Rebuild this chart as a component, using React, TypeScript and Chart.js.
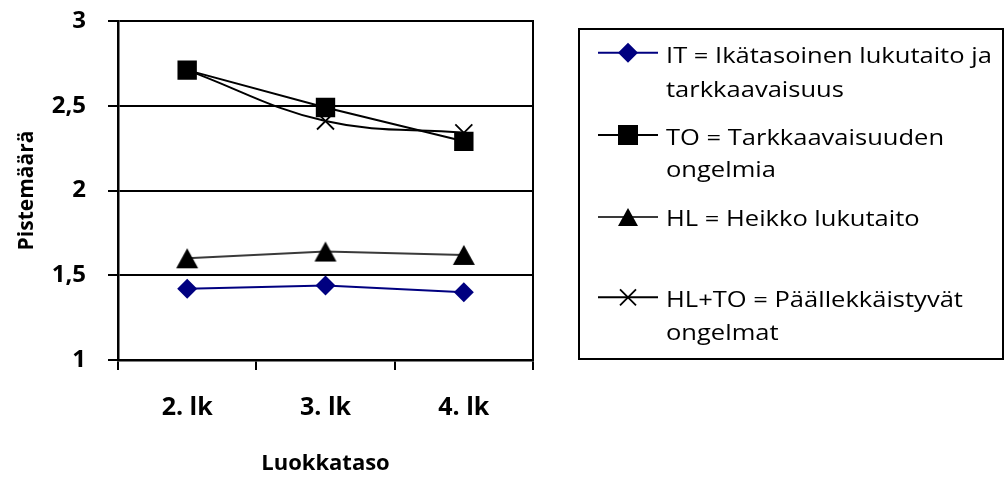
import React, { useEffect, useRef } from "react";
import { Chart, registerables } from "chart.js";

Chart.register(...registerables);

const categories = ["2. lk", "3. lk", "4. lk"];
const itValues = [1.42, 1.44, 1.4];
const toValues = [2.71, 2.49, 2.29];
const hlValues = [1.6, 1.64, 1.62];
const hltoValues = [2.71, 2.41, 2.34];

const legendLines = [
  ["IT = Ikätasoinen lukutaito ja", "tarkkaavaisuus"],
  ["TO = Tarkkaavaisuuden", "ongelmia"],
  ["HL = Heikko lukutaito"],
  ["HL+TO = Päällekkäistyvät", "ongelmat"],
];

const yAxisTitle = "Pistemäärä";
const xAxisTitle = "Luokkataso";

const FONT = "'Open Sans', 'DejaVu Sans', sans-serif";
const NAVY = "#000080";
const GRAYLINE = "#3a3a3a";

function makeTriangle(w: number, h: number, color: string) {
  const c = document.createElement("canvas");
  c.width = w + 4;
  c.height = h + 4;
  const ctx = c.getContext("2d")!;
  ctx.fillStyle = color;
  ctx.beginPath();
  ctx.moveTo(c.width / 2, 2);
  ctx.lineTo(c.width / 2 + w / 2, 2 + h);
  ctx.lineTo(c.width / 2 - w / 2, 2 + h);
  ctx.closePath();
  ctx.fill();
  return c;
}

function drawMarker(ctx: CanvasRenderingContext2D, kind: string, x: number, y: number, color: string) {
  ctx.save();
  ctx.fillStyle = color;
  ctx.strokeStyle = color;
  ctx.beginPath();
  if (kind === "diamond") {
    const r = 10;
    ctx.moveTo(x - r, y);
    ctx.lineTo(x, y - r);
    ctx.lineTo(x + r, y);
    ctx.lineTo(x, y + r);
    ctx.closePath();
    ctx.fill();
  } else if (kind === "square") {
    const s = 10;
    ctx.rect(x - s, y - s, 2 * s, 2 * s);
    ctx.fill();
  } else if (kind === "triangle") {
    ctx.moveTo(x, y - 9);
    ctx.lineTo(x + 10, y + 9);
    ctx.lineTo(x - 10, y + 9);
    ctx.closePath();
    ctx.fill();
  } else if (kind === "cross") {
    const r = 8;
    ctx.lineWidth = 1.8;
    ctx.moveTo(x - r, y - r);
    ctx.lineTo(x + r, y + r);
    ctx.moveTo(x + r, y - r);
    ctx.lineTo(x - r, y + r);
    ctx.stroke();
  }
  ctx.restore();
}

const legendPlugin = {
  id: "customLegend",
  afterDraw(chart: any) {
    const ctx: CanvasRenderingContext2D = chart.ctx;
    ctx.save();
    ctx.strokeStyle = "#000";
    ctx.lineWidth = 2;
    ctx.strokeRect(579, 29, 424, 330);

    const items = [
      { kind: "diamond", color: NAVY, line: NAVY, my: 52.7, baselines: [63, 97] },
      { kind: "square", color: "#000", line: "#000", my: 135, baselines: [145, 177] },
      { kind: "triangle", color: "#000", line: GRAYLINE, my: 217, baselines: [226] },
      { kind: "cross", color: "#000", line: "#000", my: 297.3, baselines: [307, 340] },
    ];
    items.forEach((it, i) => {
      ctx.beginPath();
      ctx.strokeStyle = it.line;
      ctx.lineWidth = 2;
      ctx.moveTo(598, it.my);
      ctx.lineTo(658, it.my);
      ctx.stroke();
      drawMarker(ctx, it.kind, 628, it.my, it.color);
      ctx.fillStyle = "#000";
      ctx.font = `22px ${FONT}`;
      ctx.textBaseline = "alphabetic";
      ctx.textAlign = "left";
      legendLines[i].forEach((t, j) => {
        ctx.save();
        ctx.translate(666, it.baselines[j]);
        ctx.scale(1.16, 1);
        ctx.fillText(t, 0, 0);
        ctx.restore();
      });
    });
    ctx.restore();
  },
};

const borderPlugin = {
  id: "rightBorder",
  beforeDatasetsDraw(chart: any) {
    const { ctx, chartArea } = chart;
    ctx.save();
    ctx.strokeStyle = "#000";
    ctx.lineWidth = 2;
    ctx.beginPath();
    ctx.moveTo(chartArea.right, chartArea.top - 1);
    ctx.lineTo(chartArea.right, chartArea.bottom);
    ctx.stroke();
    ctx.restore();
  },
};

export default function App() {
  const ref = useRef<HTMLCanvasElement>(null);
  useEffect(() => {
    document.body.style.margin = "0";
    const tri = makeTriangle(22, 20, "#000");
    const chart = new Chart(ref.current!, {
      type: "line",
      data: {
        labels: categories,
        datasets: [
          {
            label: legendLines[0].join(" "),
            data: itValues,
            borderColor: NAVY,
            backgroundColor: NAVY,
            borderWidth: 2,
            pointStyle: "rectRot",
            pointRadius: 10,
            pointBorderWidth: 0,
          },
          {
            label: legendLines[1].join(" "),
            data: toValues,
            borderColor: "#000",
            backgroundColor: "#000",
            borderWidth: 2,
            pointStyle: "rect",
            pointRadius: 13.7,
            pointBorderWidth: 0,
          },
          {
            label: legendLines[2].join(" "),
            data: hlValues,
            borderColor: GRAYLINE,
            backgroundColor: "#000",
            borderWidth: 2,
            pointStyle: tri as any,
            pointRadius: 12,
            pointBorderWidth: 0,
          },
          {
            label: legendLines[3].join(" "),
            data: hltoValues,
            borderColor: "#000",
            backgroundColor: "#000",
            borderWidth: 2,
            tension: 0.4,
            pointStyle: "crossRot",
            pointRadius: 12,
            pointBorderWidth: 1.8,
            pointBorderColor: "#000",
          },
        ],
      },
      options: {
        responsive: false,
        animation: false,
        devicePixelRatio: 1,
        layout: { padding: { left: 0, top: 21, right: 473, bottom: 0 } },
        plugins: { legend: { display: false }, tooltip: { enabled: false } },
        scales: {
          x: {
            offset: true,
            grid: {
              offset: true,
              drawOnChartArea: false,
              drawTicks: true,
              tickLength: 10,
              color: "#000",
              lineWidth: 2,
            },
            border: { color: "#000", width: 2.5 },
            ticks: {
              color: "#000",
              padding: 23,
              font: { family: FONT, size: 25, weight: "bold" },
            },
            title: {
              display: true,
              text: xAxisTitle,
              color: "#000",
              font: { family: FONT, size: 22, weight: "bold" },
              padding: { top: 0, bottom: 2 },
            },
            afterFit: (s: any) => {
              s.height = 119;
              s.paddingLeft = 0;
              s.paddingRight = 0;
            },
          },
          y: {
            min: 1,
            max: 3,
            grid: {
              drawTicks: true,
              tickLength: 10,
              color: "#000",
              lineWidth: 2,
            },
            border: { color: "#000", width: 2.5 },
            ticks: {
              stepSize: 0.5,
              color: "#000",
              padding: 22,
              font: { family: FONT, size: 24, weight: "bold" },
              callback: (v: any) => String(v).replace(".", ","),
            },
            title: {
              display: true,
              text: yAxisTitle,
              color: "#000",
              font: { family: FONT, size: 21, weight: "bold" },
              padding: { top: 14, bottom: 0 },
            },
            afterFit: (s: any) => {
              s.width = 118;
              s.paddingTop = 0;
              s.paddingBottom = 0;
            },
          },
        },
      },
      plugins: [borderPlugin, legendPlugin],
    });
    return () => chart.destroy();
  }, []);
  return (
    <div style={{ position: "fixed", left: 0, top: 0, width: 1006, height: 479, background: "#fff" }}>
      <canvas ref={ref} width={1006} height={479} />
    </div>
  );
}
